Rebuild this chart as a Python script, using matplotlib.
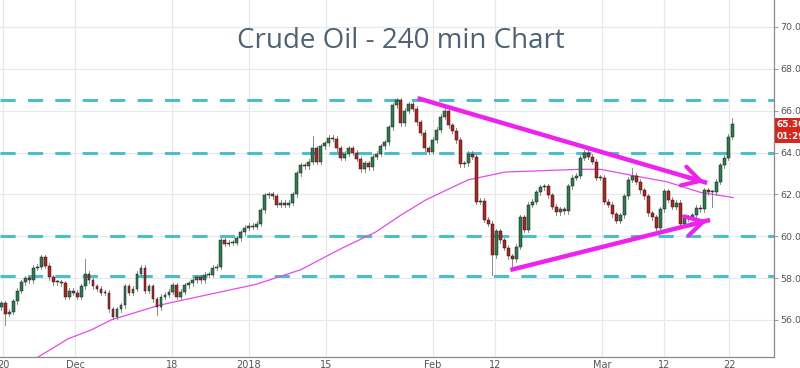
import numpy as np
import matplotlib
matplotlib.use("Agg")
import matplotlib.pyplot as plt
from matplotlib.patches import Rectangle

# 240-min closes (one bar every ~4 px)
closes = [
    56.8, 56.3, 56.4, 56.9, 57.4, 57.8, 58.0, 57.9, 58.5, 58.55,
    59.0, 58.6, 58.05, 57.8, 57.8, 57.75, 57.1, 57.4, 57.3, 57.1,
    57.6, 58.2, 57.9, 57.6, 57.5, 57.3, 57.3, 56.5, 56.15, 56.5,
    56.7, 57.6, 57.3, 57.5, 58.2, 58.5, 57.4, 57.6, 57.0, 56.6,
    57.1, 57.2, 57.35, 57.65, 57.1, 57.35, 57.65, 57.75, 57.9, 58.05,
    57.9, 58.15, 58.15, 58.5, 58.55, 59.8, 59.65, 59.7, 59.7, 59.9,
    60.2, 60.4, 60.5, 60.45, 60.6, 61.25, 61.95, 62.0, 61.9, 61.5,
    61.6, 61.5, 61.6, 62.0, 63.0, 63.4, 63.35, 63.55, 64.2, 63.55,
    64.3, 64.45, 64.7, 64.65, 64.2, 63.75, 63.95, 64.2, 64.0, 63.7,
    63.2, 63.5, 63.3, 63.8, 63.95, 64.3, 64.5, 65.2, 66.25, 66.5,
    65.4, 66.0, 66.3, 66.1, 65.45, 64.95, 64.2, 64.05, 64.6, 65.1,
    65.7, 66.0, 65.3, 65.05, 64.6, 63.45, 63.5, 63.95, 63.8, 61.65,
    61.7, 60.8, 60.6, 59.1, 60.25, 59.8, 59.45, 59.05, 58.9, 59.5,
    60.9, 60.3, 61.5, 61.65, 62.1, 62.35, 62.4, 61.95, 61.4, 61.15,
    61.3, 61.2, 62.4, 62.8, 62.9, 63.75, 64.0, 63.8, 63.55, 62.8,
    62.8, 61.65, 61.5, 61.05, 60.75, 61.0, 61.9, 62.7, 62.9, 62.6,
    62.2, 61.9, 61.1, 60.9, 60.4, 61.3, 62.15, 61.75, 61.4, 61.6,
    60.6, 60.85, 60.9, 61.0, 61.35, 61.3, 62.2, 62.1, 62.1, 62.6,
    63.4, 63.75, 64.75, 65.36,
]
first_open = 56.6
# wick extremes that stand out on the chart: bar index -> price
wick_highs = {21: 58.9, 78: 64.8, 99: 66.6, 158: 63.25, 183: 65.65}
wick_lows = {1: 55.75, 39: 56.25, 123: 58.15, 128: 58.4, 178: 61.4}

# 200-period moving average (bar index, value)
ma_x = [7.5, 9.25, 16.75, 22.5, 27.5, 39.5, 44.25, 63.75, 75, 85, 93.75,
        100, 106.25, 112.5, 117, 126.25, 145, 150, 158.25, 166.75, 175, 183.25]
ma_y = [53.95, 54.23, 55.1, 55.52, 56.0, 56.7, 56.9, 57.7, 58.4, 59.4, 60.2,
        61.0, 61.73, 62.3, 62.7, 63.07, 63.2, 63.2, 62.9, 62.6, 62.1, 61.85]

levels = [66.5, 64.0, 60.0, 58.1]
upper_line = ([104.25, 176.75], [66.6, 62.55])
lower_line = ([127.5, 177.5], [58.39, 60.78])

tick_pos = [0.5, 18.5, 42.75, 62, 81.25, 108, 123.75, 150.5, 166, 182.25]
tick_labels = ["20", "Dec", "18", "2018", "15", "Feb", "12", "Mar", "12", "22"]
y_ticks = [56, 58, 60, 62, 64, 66, 68, 70]

fig = plt.figure(figsize=(8, 3.68), dpi=100)
ax = fig.add_axes([0, 11 / 368, 774 / 800, 357 / 368])

ax.set_xlim(-0.3, 193.5)
ax.set_ylim(54.23, 71.29)

for x in tick_pos:
    ax.axvline(x, color="#e8e8e8", lw=0.9, zorder=0)
for y in y_ticks:
    ax.axhline(y, color="#e8e8e8", lw=0.9, zorder=0)

for lv in levels:
    ax.axhline(lv, color="#45bfcc", lw=2.1, linestyle=(0, (5.2, 4.2)), zorder=1)

ax.plot(ma_x, ma_y, color="#e84ae8", lw=0.9, zorder=2)

opens = [first_open] + closes[:-1]
w = 0.72
for i, (o, c) in enumerate(zip(opens, closes)):
    hi = wick_highs.get(i, max(o, c) + 0.12)
    lo = wick_lows.get(i, min(o, c) - 0.12)
    ax.plot([i, i], [lo, hi], color="#777777", lw=0.6, zorder=3)
    col = "#2a7d52" if c >= o else "#b5231f"
    body = max(abs(c - o), 0.04)
    ax.add_patch(Rectangle((i - w / 2, min(o, c)), w, body, facecolor=col,
                           edgecolor="#1a1a1a", lw=0.35, zorder=4))

mag = "#ee22ee"
ax.plot(upper_line[0], upper_line[1], color=mag, lw=3.2, solid_capstyle="butt", zorder=5)
ax.plot(lower_line[0], lower_line[1], color=mag, lw=3.2, solid_capstyle="butt", zorder=5)
for xs, ys in (upper_line, lower_line):
    slope = (ys[1] - ys[0]) / (xs[1] - xs[0])
    ax.annotate("", xy=(xs[1], ys[1]), xytext=(xs[1] - 6, ys[1] - 6 * slope),
                arrowprops=dict(arrowstyle="->,head_length=1.25,head_width=0.7",
                                color=mag, lw=3.0), zorder=6)

ax.text(0.518, 0.885, "Crude Oil - 240 min Chart", transform=ax.transAxes,
        ha="center", va="center", fontsize=20, color="#4d6275", family="Open Sans")

ax.set_xticks(tick_pos)
ax.set_xticklabels(tick_labels)
ax.set_yticks(y_ticks)
ax.set_yticklabels([f"{v:.2f}" for v in y_ticks])
ax.yaxis.tick_right()
ax.tick_params(axis="y", length=3, width=0.6, color="#888888", labelsize=6.8,
               labelcolor="#555555", pad=1.5)
ax.tick_params(axis="x", length=0, labelsize=7, labelcolor="#555555", pad=2)

for s in ("top", "left"):
    ax.spines[s].set_visible(False)
for s in ("right", "bottom"):
    ax.spines[s].set_color("#8a8a8a")
    ax.spines[s].set_linewidth(0.9)

ax.text(1.003, 65.36, "65.36", transform=ax.get_yaxis_transform(), va="center", ha="left",
        fontsize=6.5, color="white", fontweight="bold",
        bbox=dict(boxstyle="square,pad=0.2", fc="#d9261c", ec="none"), clip_on=False)
ax.text(1.003, 64.76, "01:29:", transform=ax.get_yaxis_transform(), va="center", ha="left",
        fontsize=6.5, color="white", fontweight="bold",
        bbox=dict(boxstyle="square,pad=0.2", fc="#d9261c", ec="none"), clip_on=False)

fig.savefig("out.png", dpi=100)
